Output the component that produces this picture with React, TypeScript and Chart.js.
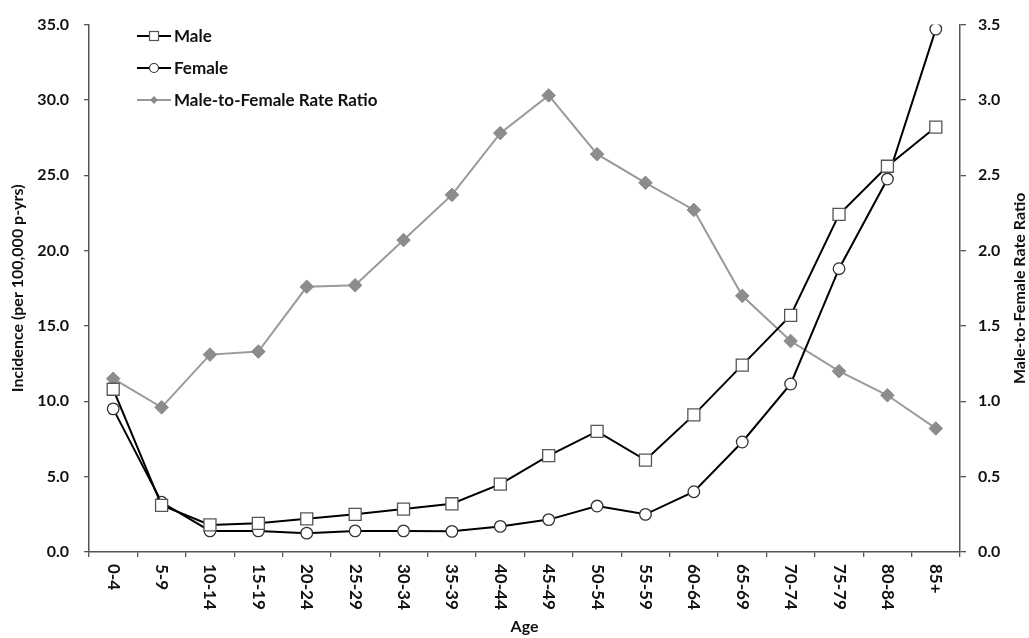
import React, { useEffect, useRef } from 'react';
import { Chart, registerables } from 'chart.js';

Chart.register(...registerables);

const ageGroups = ['0-4', '5-9', '10-14', '15-19', '20-24', '25-29', '30-34', '35-39', '40-44', '45-49', '50-54', '55-59', '60-64', '65-69', '70-74', '75-79', '80-84', '85+'];
const maleIncidence = [10.8, 3.1, 1.8, 1.9, 2.2, 2.5, 2.85, 3.2, 4.5, 6.4, 8.0, 6.1, 9.1, 12.4, 15.7, 22.4, 25.6, 28.2];
const femaleIncidence = [9.5, 3.3, 1.4, 1.4, 1.25, 1.4, 1.4, 1.37, 1.7, 2.15, 3.05, 2.5, 4.0, 7.3, 11.15, 18.8, 24.75, 34.7];
const rateRatio = [1.15, 0.96, 1.31, 1.33, 1.76, 1.77, 2.07, 2.37, 2.78, 3.03, 2.64, 2.45, 2.27, 1.7, 1.4, 1.2, 1.04, 0.82];

const seriesNames = ['Male', 'Female', 'Male-to-Female Rate Ratio'];
const leftTitle = 'Incidence (per 100,000 p-yrs)';
const rightTitle = 'Male-to-Female Rate Ratio';
const xTitle = 'Age';

const FONT = 'Lato, "Liberation Sans", sans-serif';
const AXIS_COLOR = '#555555';
const TEXT_COLOR = '#111111';

const overlayPlugin = {
  id: 'overlay',
  afterDraw(chart: any) {
    const ctx: CanvasRenderingContext2D = chart.ctx;
    const xs = chart.scales.x;
    const area = chart.chartArea;
    ctx.save();
    ctx.fillStyle = TEXT_COLOR;
    ctx.font = `bold 17px ${FONT}`;
    // rotated x tick labels (reading top to bottom)
    ctx.textAlign = 'left';
    ctx.textBaseline = 'middle';
    ageGroups.forEach((lab, i) => {
      const x = xs.getPixelForValue(i);
      ctx.save();
      ctx.translate(x, area.bottom + 12);
      ctx.rotate(Math.PI / 2);
      ctx.fillText(lab, 0, 0);
      ctx.restore();
    });
    // axis titles
    ctx.font = `bold 16px ${FONT}`;
    const midY = (area.top + area.bottom) / 2;
    ctx.textAlign = 'center';
    ctx.save();
    ctx.translate(18, midY);
    ctx.rotate(-Math.PI / 2);
    ctx.fillText(leftTitle, 0, 0);
    ctx.restore();
    ctx.save();
    ctx.translate(1020, midY);
    ctx.rotate(-Math.PI / 2);
    ctx.fillText(rightTitle, 0, 0);
    ctx.restore();
    ctx.fillText(xTitle, (area.left + area.right) / 2, 627);

    // legend
    ctx.font = `bold 17px ${FONT}`;
    const rows = [36, 68, 100];
    const x0 = 137, x1 = 171, xm = 154;
    rows.forEach((y, i) => {
      ctx.beginPath();
      ctx.lineWidth = 2;
      ctx.strokeStyle = i === 2 ? '#999999' : '#000000';
      ctx.moveTo(x0, y);
      ctx.lineTo(x1, y);
      ctx.stroke();
      ctx.lineWidth = 1.2;
      if (i === 0) {
        ctx.fillStyle = '#ffffff';
        ctx.strokeStyle = AXIS_COLOR;
        ctx.fillRect(xm - 4.5, y - 4.5, 9, 9);
        ctx.strokeRect(xm - 4.5, y - 4.5, 9, 9);
      } else if (i === 1) {
        ctx.beginPath();
        ctx.fillStyle = '#ffffff';
        ctx.strokeStyle = '#333333';
        ctx.arc(xm, y, 4.5, 0, Math.PI * 2);
        ctx.fill();
        ctx.stroke();
      } else {
        ctx.beginPath();
        ctx.fillStyle = '#8c8c8c';
        ctx.moveTo(xm, y - 4);
        ctx.lineTo(xm + 4, y);
        ctx.lineTo(xm, y + 4);
        ctx.lineTo(xm - 4, y);
        ctx.closePath();
        ctx.fill();
      }
      ctx.fillStyle = TEXT_COLOR;
      ctx.textAlign = 'left';
      ctx.textBaseline = 'middle';
      ctx.fillText(seriesNames[i], 174, y + 1);
    });
    ctx.restore();
  },
};

export default function App() {
  const canvasRef = useRef<HTMLCanvasElement | null>(null);

  useEffect(() => {
    if (!canvasRef.current) return;
    const tickFont = { family: FONT, size: 16, weight: 'bold' as const };
    const chart = new Chart(canvasRef.current, {
      type: 'line',
      data: {
        labels: ageGroups,
        datasets: [
          {
            label: seriesNames[0],
            data: maleIncidence,
            yAxisID: 'y',
            borderColor: '#000000',
            borderWidth: 2,
            pointStyle: 'rect',
            pointRadius: 8.5,
            pointBackgroundColor: '#ffffff',
            pointBorderColor: AXIS_COLOR,
            pointBorderWidth: 1.3,
            tension: 0,
          },
          {
            label: seriesNames[1],
            data: femaleIncidence,
            yAxisID: 'y',
            borderColor: '#000000',
            borderWidth: 2,
            pointStyle: 'circle',
            pointRadius: 5.8,
            pointBackgroundColor: '#ffffff',
            pointBorderColor: '#333333',
            pointBorderWidth: 1.3,
            tension: 0,
          },
          {
            label: seriesNames[2],
            data: rateRatio,
            yAxisID: 'y1',
            borderColor: '#9a9a9a',
            borderWidth: 2,
            pointStyle: 'rectRot',
            pointRadius: 6.8,
            pointBackgroundColor: '#8c8c8c',
            pointBorderColor: '#8c8c8c',
            pointBorderWidth: 1,
            tension: 0,
          },
        ],
      },
      options: {
        animation: false,
        responsive: true,
        maintainAspectRatio: false,
        layout: { padding: { top: 15, left: 0, right: 0, bottom: 0 } },
        plugins: {
          legend: { display: false },
          tooltip: { enabled: false },
        },
        scales: {
          x: {
            type: 'category',
            offset: true,
            grid: { offset: true, drawOnChartArea: false, drawTicks: true, tickLength: 5, color: AXIS_COLOR, lineWidth: 1.3 },
            border: { color: AXIS_COLOR, width: 1.5 },
            ticks: { display: false },
            afterFit: (s: any) => { s.height = 86; },
          },
          y: {
            position: 'left',
            min: 0,
            max: 35,
            grid: { drawOnChartArea: false, drawTicks: true, tickLength: 5, color: AXIS_COLOR, lineWidth: 1.3 },
            border: { color: AXIS_COLOR, width: 1.5 },
            ticks: {
              stepSize: 5,
              padding: 15,
              color: TEXT_COLOR,
              font: tickFont,
              callback: (v: any) => Number(v).toFixed(1),
            },
            afterFit: (s: any) => { s.width = 89; },
          },
          y1: {
            position: 'right',
            min: 0,
            max: 3.5,
            grid: { drawOnChartArea: false, drawTicks: true, tickLength: 6, color: AXIS_COLOR, lineWidth: 1.3 },
            border: { color: AXIS_COLOR, width: 1.5 },
            ticks: {
              stepSize: 0.5,
              padding: 12,
              color: TEXT_COLOR,
              font: tickFont,
              callback: (v: any) => Number(v).toFixed(1),
            },
            afterFit: (s: any) => { s.width = 69; },
          },
        },
      },
      plugins: [overlayPlugin],
    });
    return () => chart.destroy();
  }, []);

  return (
    <div style={{ position: 'absolute', left: 0, top: 0, width: 1029, height: 638, background: '#ffffff' }}>
      <canvas ref={canvasRef} />
    </div>
  );
}
